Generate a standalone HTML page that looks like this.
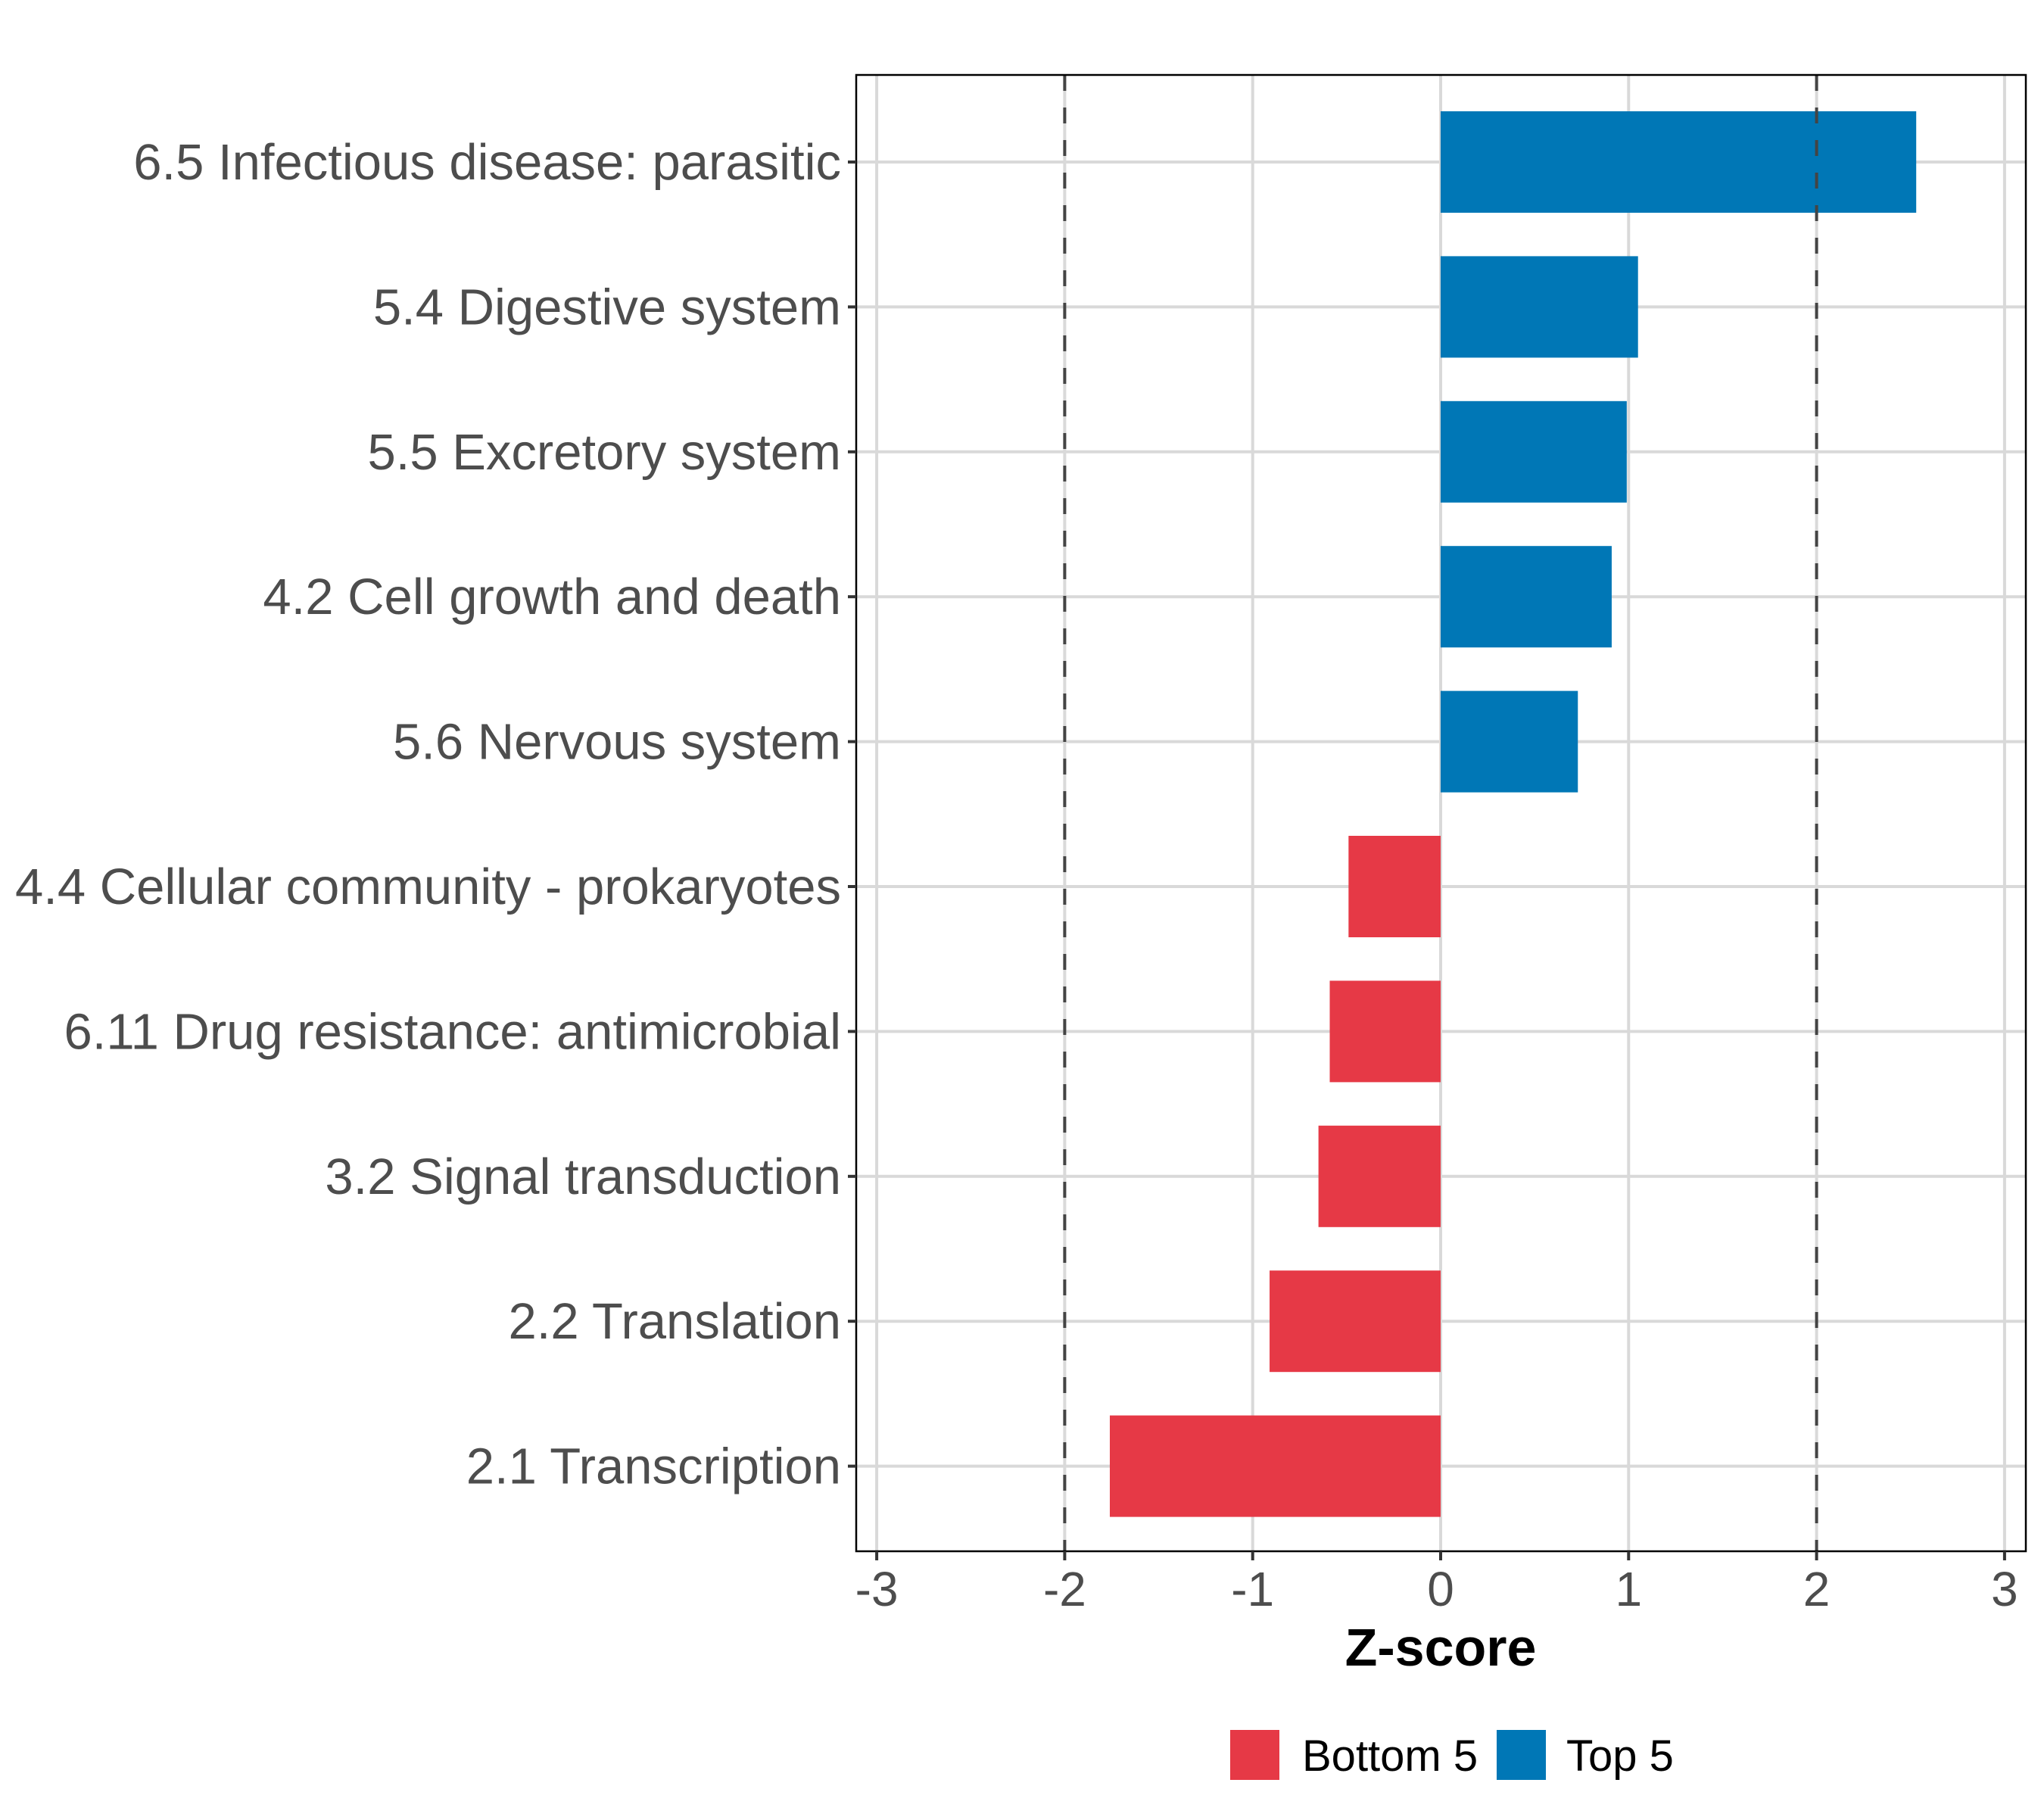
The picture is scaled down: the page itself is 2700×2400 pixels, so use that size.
<!DOCTYPE html>
<html><head><meta charset="utf-8"><style>html,body{margin:0;padding:0;background:#fff}svg{display:block}</style></head>
<body>
<svg id="chart" width="2700" height="2400" viewBox="0 0 2700 2400" xmlns="http://www.w3.org/2000/svg" font-family="Liberation Sans, Arial, sans-serif"></svg>
<script>
const categories = ["6.5 Infectious disease: parasitic","5.4 Digestive system","5.5 Excretory system","4.2 Cell growth and death","5.6 Nervous system","4.4 Cellular community - prokaryotes","6.11 Drug resistance: antimicrobial","3.2 Signal transduction","2.2 Translation","2.1 Transcription"];
const values = [2.53, 1.05, 0.99, 0.91, 0.73, -0.49, -0.59, -0.65, -0.91, -1.76];
const groups = ["Top 5","Top 5","Top 5","Top 5","Top 5","Bottom 5","Bottom 5","Bottom 5","Bottom 5","Bottom 5"];
const xTicks = [-3,-2,-1,0,1,2,3];
const xTickLabels = ["-3","-2","-1","0","1","2","3"];
const refLines = [-2, 2];

const NS = "http://www.w3.org/2000/svg";
const svg = document.getElementById('chart');
const P = {l:1131, r:2676, t:99, b:2049};
const x = v => 1903 + v * 248.3;
const y0 = 214, step = 191.4;
const y = i => y0 + i * step;
const barH = 134;
const colors = {"Top 5":"#0077b6","Bottom 5":"#e63946"};
function mk(tag, attrs, parent){const e=document.createElementNS(NS,tag);for(const k in attrs)e.setAttribute(k,attrs[k]);(parent||svg).appendChild(e);return e;}

const grid = mk('g',{});


xTicks.forEach(t=>{const l=mk('line',{x1:x(t),x2:x(t),y1:P.t,y2:P.b,stroke:'#d9d9d9','stroke-width':4},grid);

});
categories.forEach((c,i)=>{const l=mk('line',{x1:P.l,x2:P.r,y1:y(i),y2:y(i),stroke:'#d9d9d9','stroke-width':4},grid);

});

const bars = mk('g',{});


values.forEach((v,i)=>{const x1=Math.min(x(0),x(v)),w=Math.abs(x(v)-x(0));
const r=mk('rect',{x:x1,y:y(i)-barH/2,width:w,height:barH,fill:colors[groups[i]]},bars);

});

refLines.forEach(v=>{const l=mk('line',{x1:x(v),x2:x(v),y1:P.t,y2:P.b,stroke:'#444','stroke-width':4,'stroke-dasharray':'21 22'});

});

const border=mk('rect',{x:P.l,y:P.t,width:P.r-P.l,height:P.b-P.t,fill:'none',stroke:'#000','stroke-width':2.5});



const yAxis=mk('g',{});


categories.forEach((c,i)=>{mk('line',{x1:P.l-11,x2:P.l,y1:y(i),y2:y(i),stroke:'#333','stroke-width':4},yAxis);
const t=mk('text',{x:P.l-20,y:y(i)+23,'text-anchor':'end','font-size':67,fill:'#4d4d4d'},yAxis);t.textContent=c;

});

const xAxis=mk('g',{});


xTicks.forEach((tv,i)=>{mk('line',{x1:x(tv),x2:x(tv),y1:P.b,y2:P.b+12,stroke:'#333','stroke-width':4},xAxis);
const t=mk('text',{x:x(tv),y:P.b+72,'text-anchor':'middle','font-size':64,fill:'#4d4d4d'},xAxis);t.textContent=xTickLabels[i];

});
const xt=mk('text',{x:x(0),y:2200,'text-anchor':'middle','font-size':70,'font-weight':'bold',fill:'#000'});xt.textContent='Z-score';



const leg=mk('g',{});


[["Bottom 5",1625,1720],["Top 5",1977,2069]].forEach(([n,kx,tx])=>{
const k=mk('rect',{x:kx,y:2285,width:65,height:66,fill:colors[n]},leg);


const t=mk('text',{x:tx,y:2339,'font-size':58,fill:'#000'},leg);t.textContent=n;

});
</script>
</body></html>
